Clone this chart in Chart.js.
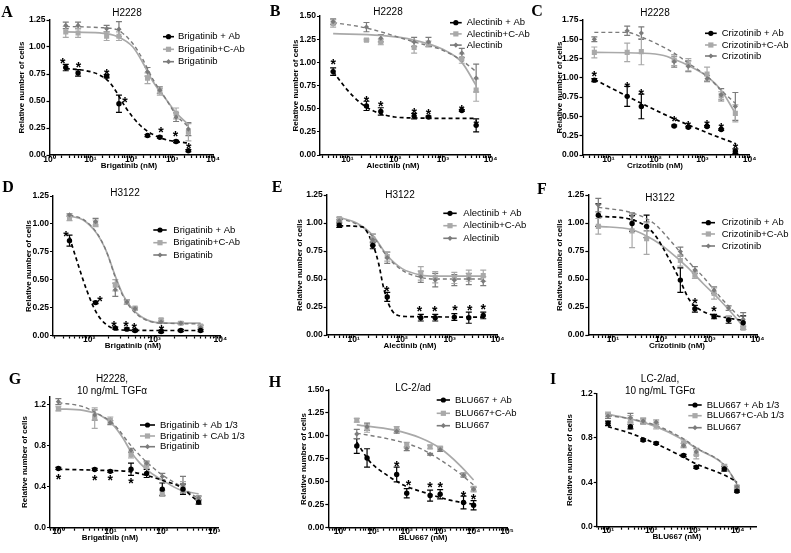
<!DOCTYPE html>
<html>
<head>
<meta charset="utf-8">
<script src="https://cdn.jsdelivr.net/npm/chart.js@4.4.1/dist/chart.umd.min.js"></script>
<style>
  html, body { margin: 0; padding: 0; background: #fff; }
  #wrap { position: relative; width: 791px; height: 553px; overflow: hidden; }
  #wrap canvas { position: absolute; left: 0; top: 0; }
</style>
</head>
<body>
<div id="wrap"></div>
<script>
// ---- A: H2228, brigatinib
const aDose = [2.5, 5, 25, 50, 250, 500, 1250, 2500];
const aAb = [0.81, 0.76, 0.73, 0.475, 0.18, 0.165, 0.125, 0.04];
const aAbErr = [0.03, 0.03, 0.015, 0.08, 0.01, 0.01, 0.01, 0.01];
const aCAb = [1.14, 1.13, 1.10, 1.10, 0.71, 0.585, 0.385, 0.21];
const aCAbErr = [0.05, 0.04, 0.04, 0.04, 0.05, 0.03, 0.05, 0.08];
const aDrug = [1.20, 1.20, 1.17, 1.165, 0.77, 0.60, 0.35, 0.24];
const aDrugErr = [0.03, 0.03, 0.03, 0.07, 0.04, 0.03, 0.04, 0.06];
const aAbFitX = [2.5, 8, 17, 30, 44, 76, 160, 340, 730, 1550, 2500];
const aAbFitY = [0.80, 0.78, 0.74, 0.67, 0.58, 0.43, 0.28, 0.19, 0.14, 0.12, 0.11];
const aCAbFitX = [2.5, 17, 44, 110, 195, 340, 730, 1260, 2500];
const aCAbFitY = [1.14, 1.13, 1.10, 1.00, 0.85, 0.68, 0.51, 0.39, 0.28];
const aDrugFitY = [1.19, 1.18, 1.16, 1.03, 0.88, 0.70, 0.51, 0.37, 0.26];
const aStarX = [2.1, 5.1, 25, 70, 530, 1210, 2560];
const aStarY = [0.88, 0.84, 0.78, 0.52, 0.24, 0.20, 0.09];

// ---- B: H2228, alectinib
const bDose = [5, 25, 50, 250, 500, 2500, 5000];
const bAb = [0.90, 0.53, 0.47, 0.42, 0.41, 0.48, 0.32];
const bAbErr = [0.04, 0.05, 0.04, 0.03, 0.01, 0.01, 0.07];
const bCAb = [1.42, 1.24, 1.22, 1.16, 1.20, 1.04, 0.70];
const bCAbErr = [0.04, 0.01, 0.03, 0.06, 0.03, 0.05, 0.12];
const bDrug = [1.44, 1.38, 1.26, 1.22, 1.22, 1.10, 0.83];
const bDrugErr = [0.03, 0.05, 0.04, 0.05, 0.05, 0.05, 0.15];
const bAbFitX = [5, 10, 19, 37, 98, 260, 1000, 5000];
const bAbFitY = [0.90, 0.70, 0.56, 0.47, 0.41, 0.40, 0.395, 0.395];
const bCAbFitX = [5, 50, 250, 1000, 2500, 5000];
const bCAbFitY = [1.31, 1.29, 1.24, 1.14, 1.00, 0.75];
const bDrugFitX = [5, 25, 250, 1000, 2500, 5000];
const bDrugFitY = [1.43, 1.37, 1.22, 1.13, 1.02, 0.90];
const bStarX = [5, 25, 50, 250, 500, 2500, 5000];
const bStarY = [1.01, 0.61, 0.56, 0.49, 0.47, 0.52, 0.36];

// ---- C: H2228, crizotinib
const cDose = [5, 25, 50, 250, 500, 1250, 2500, 5000];
const cAb = [0.97, 0.76, 0.63, 0.376, 0.36, 0.37, 0.33, 0.05];
const cAbErr = [0.02, 0.13, 0.16, 0.01, 0.01, 0.01, 0.01, 0.03];
const cCAb = [1.33, 1.33, 1.34, 1.23, 1.17, 1.05, 0.77, 0.54];
const cCAbErr = [0.07, 0.12, 0.17, 0.07, 0.08, 0.09, 0.05, 0.11];
const cDrug = [1.50, 1.61, 1.58, 1.21, 1.15, 0.99, 0.78, 0.63];
const cDrugErr = [0.03, 0.06, 0.08, 0.07, 0.07, 0.04, 0.08, 0.18];
const cAbFitX = [5, 15, 50, 150, 500, 1500, 5000];
const cAbFitY = [0.98, 0.83, 0.67, 0.53, 0.39, 0.27, 0.15];
const cCAbFitX = [5, 50, 150, 250, 500, 1250, 2500, 5000];
const cCAbFitY = [1.33, 1.32, 1.29, 1.24, 1.16, 1.02, 0.84, 0.54];
const cDrugFitX = [5, 25, 50, 100, 250, 500, 1250, 2500, 5000];
const cDrugFitY = [1.59, 1.59, 1.53, 1.45, 1.32, 1.19, 1.02, 0.84, 0.67];
const cStarX = [5, 25, 50, 250, 500, 1250, 2500, 5000];
const cStarY = [1.06, 0.92, 0.83, 0.48, 0.42, 0.43, 0.39, 0.13];

// ---- D: H3122, brigatinib
const dDose = [50, 125, 250, 375, 500, 1250, 2500, 5000];
const dAb = [0.85, 0.295, 0.066, 0.057, 0.045, 0.036, 0.045, 0.045];
const dAbErr = [0.05, 0.01, 0.01, 0.01, 0.01, 0.01, 0.01, 0.01];
const dCAb = [1.05, 1.005, 0.45, 0.30, 0.245, 0.14, 0.11, 0.085];
const dCAbErr = [0.02, 0.03, 0.05, 0.02, 0.01, 0.01, 0.01, 0.01];
const dDrug = [1.08, 1.02, 0.41, 0.30, 0.24, 0.12, 0.11, 0.07];
const dDrugErr = [0.01, 0.03, 0.06, 0.02, 0.01, 0.01, 0.01, 0.02];
const dAbFitX = [50, 64, 91, 130, 184, 294, 1000, 5000];
const dAbFitY = [0.88, 0.68, 0.41, 0.20, 0.096, 0.05, 0.045, 0.045];
const dCAbFitX = [50, 81, 130, 184, 247, 330, 470, 760, 1500, 5000];
const dCAbFitY = [1.07, 1.035, 0.915, 0.75, 0.54, 0.36, 0.23, 0.14, 0.11, 0.11];
const dDrugFitY = [1.08, 1.04, 0.92, 0.75, 0.53, 0.35, 0.22, 0.135, 0.11, 0.105];
const dStarX = [44, 146, 238, 363, 487, 1270];
const dStarY = [0.92, 0.335, 0.11, 0.116, 0.096, 0.08];

// ---- E: H3122, alectinib
const eDose = [5, 25, 50, 250, 500, 1250, 2500, 5000];
const eAb = [0.98, 0.80, 0.34, 0.155, 0.155, 0.16, 0.155, 0.175];
const eAbErr = [0.02, 0.03, 0.04, 0.03, 0.03, 0.03, 0.05, 0.03];
const eCAb = [1.04, 0.86, 0.70, 0.55, 0.515, 0.51, 0.53, 0.53];
const eCAbErr = [0.01, 0.04, 0.04, 0.06, 0.05, 0.05, 0.05, 0.05];
const eDrug = [1.02, 0.85, 0.69, 0.52, 0.49, 0.49, 0.50, 0.48];
const eDrugErr = [0.01, 0.05, 0.05, 0.05, 0.06, 0.05, 0.05, 0.04];
const eAbFitX = [5, 15, 25, 33, 41.5, 53, 72, 126, 5000];
const eAbFitY = [0.975, 0.965, 0.81, 0.64, 0.43, 0.28, 0.19, 0.165, 0.16];
const eCAbFitX = [5, 11.5, 25, 50, 100, 250, 500, 5000];
const eCAbFitY = [1.05, 1.00, 0.89, 0.71, 0.595, 0.535, 0.525, 0.525];
const eDrugFitY = [1.04, 0.99, 0.88, 0.70, 0.58, 0.515, 0.50, 0.50];
const eStarX = [49, 235, 490, 1290, 2610, 5000];
const eStarY = [0.42, 0.24, 0.24, 0.25, 0.25, 0.26];

// ---- F: H3122, crizotinib
const fDose = [5, 25, 50, 250, 500, 1250, 2500, 5000];
const fAb = [1.07, 0.995, 0.97, 0.49, 0.235, 0.165, 0.135, 0.11];
const fAbErr = [0.10, 0.07, 0.10, 0.11, 0.03, 0.02, 0.03, 0.06];
const fCAb = [0.97, 0.93, 0.86, 0.665, 0.535, 0.37, 0.15, 0.06];
const fCAbErr = [0.07, 0.15, 0.14, 0.05, 0.03, 0.05, 0.02, 0.01];
const fDrug = [1.16, 1.06, 0.97, 0.745, 0.58, 0.40, 0.24, 0.14];
const fDrugErr = [0.06, 0.03, 0.04, 0.04, 0.03, 0.03, 0.02, 0.06];
const fAbFitX = [5, 25, 69, 150, 245, 390, 740, 1660, 5000];
const fAbFitY = [1.06, 1.03, 0.91, 0.67, 0.49, 0.31, 0.21, 0.165, 0.13];
const fCAbFitX = [5, 25, 69, 150, 340, 740, 1660, 3600, 5000];
const fCAbFitY = [0.97, 0.94, 0.85, 0.745, 0.61, 0.46, 0.31, 0.15, 0.075];
const fDrugFitY = [1.14, 1.09, 1.00, 0.85, 0.67, 0.52, 0.34, 0.19, 0.13];
const fStarX = [500, 1250];
const fStarY = [0.31, 0.24];

// ---- G: H2228 + TGFa, brigatinib
const gDose = [1, 5, 10, 25, 50, 100, 250, 500];
const gAb = [0.578, 0.568, 0.55, 0.57, 0.53, 0.376, 0.376, 0.25];
const gAbErr = [0.01, 0.01, 0.01, 0.06, 0.04, 0.06, 0.05, 0.02];
const gCAb = [1.16, 1.07, 1.05, 0.71, 0.61, 0.335, 0.40, 0.285];
const gCAbErr = [0.02, 0.10, 0.03, 0.03, 0.03, 0.03, 0.05, 0.02];
const gDrug = [1.23, 1.10, 1.025, 0.755, 0.63, 0.50, 0.42, 0.29];
const gDrugErr = [0.03, 0.05, 0.02, 0.02, 0.02, 0.03, 0.08, 0.02];
const gAbFitX = [1, 6.3, 25, 50, 103, 217, 500];
const gAbFitY = [0.57, 0.56, 0.545, 0.51, 0.46, 0.40, 0.25];
const gCAbFitX = [1, 3, 6.3, 11.4, 17.7, 25, 37, 57, 103, 217, 500];
const gCAbFitY = [1.16, 1.145, 1.10, 1.00, 0.87, 0.74, 0.63, 0.545, 0.46, 0.37, 0.33];
const gDrugFitX = [1, 3, 6.3, 11.4, 25, 50, 103, 217, 500];
const gDrugFitY = [1.22, 1.18, 1.10, 1.015, 0.80, 0.64, 0.51, 0.41, 0.28];
const gStarX = [1, 5, 10, 25];
const gStarY = [0.50, 0.49, 0.49, 0.47];

// ---- H: LC-2/ad, BLU667
const hDose = [3.2, 6.5, 50, 100, 500, 1000, 5000, 10000];
const hAb = [0.89, 0.76, 0.58, 0.375, 0.35, 0.365, 0.275, 0.245];
const hAbErr = [0.08, 0.10, 0.08, 0.05, 0.06, 0.05, 0.07, 0.05];
const hCAb = [1.17, 1.08, 1.07, 0.90, 0.88, 0.865, 0.58, 0.42];
const hCAbErr = [0.02, 0.04, 0.03, 0.03, 0.02, 0.02, 0.02, 0.03];
const hDrug = [1.02, 1.10, 1.05, 0.86, 0.80, 0.85, 0.57, 0.42];
const hDrugErr = [0.05, 0.04, 0.02, 0.02, 0.01, 0.02, 0.02, 0.02];
const hAbFitX = [3.2, 7.9, 25, 79, 400, 1950, 10000];
const hAbFitY = [0.93, 0.72, 0.575, 0.465, 0.375, 0.30, 0.255];
const hCAbFitX = [3.2, 40, 250, 1000, 3900, 10000];
const hCAbFitY = [1.12, 1.065, 0.98, 0.865, 0.68, 0.52];
const hDrugFitY = [1.03, 0.955, 0.865, 0.74, 0.59, 0.465];
const hStarX = [50, 112, 500, 1000, 5000, 10000];
const hStarY = [0.70, 0.50, 0.48, 0.48, 0.375, 0.34];

// ---- I: LC-2/ad + TGFa, BLU667
const iDose = [10, 33, 65, 130, 560, 1100, 4900, 9600];
const iAb = [0.93, 0.90, 0.78, 0.75, 0.64, 0.535, 0.52, 0.32];
const iAbErr = [0.02, 0.02, 0.01, 0.01, 0.01, 0.01, 0.02, 0.01];
const iCAb = [1.01, 0.96, 0.95, 0.91, 0.75, 0.65, 0.54, 0.36];
const iCAbErr = [0.02, 0.04, 0.03, 0.03, 0.03, 0.04, 0.02, 0.01];
const iDrug = [0.995, 0.98, 0.95, 0.94, 0.73, 0.675, 0.525, 0.36];
const iDrugErr = [0.02, 0.04, 0.02, 0.02, 0.02, 0.03, 0.02, 0.01];
const iFitX = [10, 33, 130, 560, 1100, 4900, 9600];
const iAbFitY = [0.90, 0.84, 0.745, 0.625, 0.565, 0.465, 0.405];
const iCAbFitY = [1.01, 0.97, 0.90, 0.78, 0.705, 0.555, 0.39];
const iDrugFitY = [1.00, 0.97, 0.91, 0.79, 0.71, 0.555, 0.385];

const W = 791, H = 553;
const SANS = '"Liberation Sans", Arial, sans-serif';
const SERIF = '"Liberation Serif", "Times New Roman", serif';
const BLACK = '#000000', LIGHT = '#a9a9a9', DARK = '#7b7b7b';
const SUP = { '0': '\u2070', '1': '\u00b9', '2': '\u00b2', '3': '\u00b3', '4': '\u2074', '5': '\u2075' };
const YW = 30, XH = 14;

function logTicks(min, max) {
  const out = [];
  for (let e = Math.floor(Math.log10(min)); e <= Math.ceil(Math.log10(max)); e++) {
    for (let m = 1; m < 10; m++) {
      const v = m * Math.pow(10, e);
      if (v >= min * 0.999 && v <= max * 1.001) out.push({ value: v, major: m === 1 });
    }
  }
  return out;
}

function powLabel(v) {
  const e = Math.log10(v);
  if (Math.abs(e - Math.round(e)) > 1e-6) return '';
  return '10' + String(Math.round(e)).split('').map(c => SUP[c]).join('');
}

function mark(ctx, style, color, x, y) {
  ctx.fillStyle = color;
  ctx.beginPath();
  if (style === 'circle') ctx.arc(x, y, 2.6, 0, Math.PI * 2);
  else if (style === 'rect') ctx.rect(x - 2.6, y - 2.6, 5.2, 5.2);
  else { ctx.moveTo(x, y - 2.6); ctx.lineTo(x + 2.6, y); ctx.lineTo(x, y + 2.6); ctx.lineTo(x - 2.6, y); ctx.closePath(); }
  ctx.fill();
}

const decor = {
  id: 'decor',
  beforeDatasetsDraw(chart) {
    const ctx = chart.ctx, xs = chart.scales.x, ys = chart.scales.y;
    chart.data.datasets.forEach(ds => {
      if (!ds.err) return;
      ctx.save();
      ctx.strokeStyle = ds.borderColor;
      ctx.lineWidth = 1.2;
      ds.data.forEach((pt, i) => {
        const e = ds.err[i];
        const x = xs.getPixelForValue(pt.x);
        const y1 = ys.getPixelForValue(pt.y + e), y2 = ys.getPixelForValue(pt.y - e);
        ctx.beginPath();
        ctx.moveTo(x, y1); ctx.lineTo(x, y2);
        ctx.moveTo(x - 3, y1); ctx.lineTo(x + 3, y1);
        ctx.moveTo(x - 3, y2); ctx.lineTo(x + 3, y2);
        ctx.stroke();
      });
      ctx.restore();
    });
  },
  afterDraw(chart) {
    const p = chart.canvas.panel;
    const ctx = chart.ctx, xs = chart.scales.x, ys = chart.scales.y;
    ctx.save();
    ctx.fillStyle = '#000';
    ctx.textBaseline = 'middle';
    ctx.textAlign = 'center';
    // panel letter
    ctx.font = 'bold 16px ' + SERIF;
    ctx.fillText(p.letter, p.letterAt[0], p.letterAt[1]);
    // title lines
    ctx.font = '10px ' + SANS;
    p.title.forEach((t, i) => ctx.fillText(t, p.titleAt[0], p.titleAt[1] + i * 12));
    // axis titles
    ctx.font = 'bold 8px ' + SANS;
    ctx.fillText(p.xTitle, p.xTitleAt[0], p.xTitleAt[1]);
    ctx.save();
    ctx.translate(p.yTitleAt[0], p.yTitleAt[1]);
    ctx.rotate(-Math.PI / 2);
    ctx.fillText('Relative number of cells', 0, 0);
    ctx.restore();
    // stars
    ctx.font = 'bold 14px ' + SANS;
    ctx.textBaseline = 'alphabetic';
    p.stars[0].forEach((sx, i) => {
      ctx.fillText('*', xs.getPixelForValue(sx), ys.getPixelForValue(p.stars[1][i]) + 8);
    });
    // legend
    const L = p.legend;
    const keys = [[BLACK, 'circle'], [LIGHT, 'rect'], [DARK, 'diamond']];
    ctx.font = '9.5px ' + SANS;
    ctx.textAlign = 'left';
    ctx.textBaseline = 'middle';
    keys.forEach((k, i) => {
      const y = L.ys[i];
      ctx.strokeStyle = k[0];
      ctx.lineWidth = 1.6;
      ctx.beginPath(); ctx.moveTo(L.x1, y); ctx.lineTo(L.x2, y); ctx.stroke();
      mark(ctx, k[1], k[0], (L.x1 + L.x2) / 2, y);
      ctx.fillStyle = '#000';
      ctx.fillText(p.labels[i], L.tx, y);
    });
    ctx.restore();
  }
};

function panel(p) {
  const canvas = document.createElement('canvas');
  canvas.width = W;
  canvas.height = H;
  document.getElementById('wrap').appendChild(canvas);
  canvas.panel = p;
  const pts = ys => p.dose.map((d, i) => ({ x: d, y: ys[i] }));
  const curve = (xs, ys) => xs.map((x, i) => ({ x: x, y: ys[i] }));
  const b = p.box;
  const tickFont = { family: SANS, size: 8.5, weight: 'bold', lineHeight: 1 };
  const axisGrid = { drawOnChartArea: false, color: '#000', tickLength: 3, tickWidth: 1.2 };
  const axisBorder = { color: '#000', width: 1.4 };

  new Chart(canvas, {
    type: 'scatter',
    data: {
      datasets: [
        { data: pts(p.ab), err: p.abErr, pointStyle: 'circle', pointRadius: 2.7, backgroundColor: BLACK, borderColor: BLACK, borderWidth: 0 },
        { data: pts(p.drug), err: p.drugErr, pointStyle: 'rectRot', pointRadius: 2.6, backgroundColor: DARK, borderColor: DARK, borderWidth: 0 },
        { data: pts(p.cab), err: p.cabErr, pointStyle: 'rect', pointRadius: 3.6, backgroundColor: LIGHT, borderColor: LIGHT, borderWidth: 0 },
        { data: curve(p.abFit[0], p.abFit[1]), showLine: true, pointRadius: 0, borderColor: BLACK, borderWidth: 1.7, borderDash: [4, 3], cubicInterpolationMode: 'monotone' },
        { data: curve(p.drugFit[0], p.drugFit[1]), showLine: true, pointRadius: 0, borderColor: DARK, borderWidth: 1.4, borderDash: [4, 3], cubicInterpolationMode: 'monotone' },
        { data: curve(p.cabFit[0], p.cabFit[1]), showLine: true, pointRadius: 0, borderColor: LIGHT, borderWidth: 1.7, cubicInterpolationMode: 'monotone' }
      ]
    },
    options: {
      responsive: false,
      animation: false,
      events: [],
      layout: { padding: { left: b.x0 - YW, right: W - b.x1, top: b.y0, bottom: H - b.y1 - XH } },
      plugins: { legend: { display: false }, tooltip: { enabled: false } },
      scales: {
        x: {
          type: 'logarithmic',
          min: p.xmin,
          max: p.xmax,
          afterFit: s => { s.height = XH; },
          afterBuildTicks: s => { s.ticks = logTicks(p.xmin, p.xmax); },
          grid: axisGrid,
          border: axisBorder,
          ticks: { autoSkip: false, maxRotation: 0, padding: -3, color: '#000', font: tickFont, callback: v => powLabel(v) }
        },
        y: {
          type: 'linear',
          min: 0,
          max: p.ymax,
          afterFit: s => { s.width = YW; },
          afterBuildTicks: s => {
            s.ticks = s.ticks.filter(t => Math.abs(t.value / p.step - Math.round(t.value / p.step)) < 1e-6);
          },
          grid: axisGrid,
          border: axisBorder,
          ticks: { stepSize: p.step, padding: 1, color: '#000', font: tickFont, callback: v => v.toFixed(p.dec) }
        }
      }
    },
    plugins: [decor]
  });
}

const brig = ['Brigatinib + Ab', 'Brigatinib+C-Ab', 'Brigatinib'];
const alec = ['Alectinib + Ab', 'Alectinib+C-Ab', 'Alectinib'];
const criz = ['Crizotinib + Ab', 'Crizotinib+C-Ab', 'Crizotinib'];

panel({
  letter: 'A', letterAt: [7, 13], title: ['H2228'], titleAt: [127, 13],
  xTitle: 'Brigatinib (nM)', xTitleAt: [129, 165.5], yTitleAt: [21.7, 87.5],
  box: { x0: 49.5, x1: 213, y0: 20, y1: 155 }, xmin: 1, xmax: 1e4, ymax: 1.25, step: 0.25, dec: 2,
  dose: aDose, ab: aAb, abErr: aAbErr, cab: aCAb, cabErr: aCAbErr, drug: aDrug, drugErr: aDrugErr,
  abFit: [aAbFitX, aAbFitY], cabFit: [aCAbFitX, aCAbFitY], drugFit: [aCAbFitX, aDrugFitY],
  stars: [aStarX, aStarY], labels: brig,
  legend: { x1: 163, x2: 174, tx: 178, ys: [36.7, 49.3, 61.7] }
});

panel({
  letter: 'B', letterAt: [275, 12], title: ['H2228'], titleAt: [388, 12],
  xTitle: 'Alectinib (nM)', xTitleAt: [393, 165.5], yTitleAt: [296, 85.5],
  box: { x0: 320, x1: 490.5, y0: 16, y1: 155 }, xmin: 2.65, xmax: 1e4, ymax: 1.5, step: 0.25, dec: 2,
  dose: bDose, ab: bAb, abErr: bAbErr, cab: bCAb, cabErr: bCAbErr, drug: bDrug, drugErr: bDrugErr,
  abFit: [bAbFitX, bAbFitY], cabFit: [bCAbFitX, bCAbFitY], drugFit: [bDrugFitX, bDrugFitY],
  stars: [bStarX, bStarY], labels: alec,
  legend: { x1: 450, x2: 461.7, tx: 466.7, ys: [22.7, 33.9, 45.1] }
});

panel({
  letter: 'C', letterAt: [537, 12], title: ['H2228'], titleAt: [655, 13],
  xTitle: 'Crizotinib (nM)', xTitleAt: [655, 165.5], yTitleAt: [560, 87.5],
  box: { x0: 582.5, x1: 749.5, y0: 20, y1: 155 }, xmin: 2.8, xmax: 1e4, ymax: 1.75, step: 0.25, dec: 2,
  dose: cDose, ab: cAb, abErr: cAbErr, cab: cCAb, cabErr: cCAbErr, drug: cDrug, drugErr: cDrugErr,
  abFit: [cAbFitX, cAbFitY], cabFit: [cCAbFitX, cCAbFitY], drugFit: [cDrugFitX, cDrugFitY],
  stars: [cStarX, cStarY], labels: criz,
  legend: { x1: 705, x2: 716.7, tx: 721.7, ys: [33.3, 45, 56] }
});

panel({
  letter: 'D', letterAt: [8, 188], title: ['H3122'], titleAt: [125, 193],
  xTitle: 'Brigatinib (nM)', xTitleAt: [133, 346], yTitleAt: [28.3, 266],
  box: { x0: 53, x1: 220.3, y0: 196, y1: 335.5 }, xmin: 28, xmax: 1e4, ymax: 1.25, step: 0.25, dec: 2,
  dose: dDose, ab: dAb, abErr: dAbErr, cab: dCAb, cabErr: dCAbErr, drug: dDrug, drugErr: dDrugErr,
  abFit: [dAbFitX, dAbFitY], cabFit: [dCAbFitX, dCAbFitY], drugFit: [dCAbFitX, dDrugFitY],
  stars: [dStarX, dStarY], labels: brig,
  legend: { x1: 153.3, x2: 166.7, tx: 173.3, ys: [230, 242.7, 255] }
});

panel({
  letter: 'E', letterAt: [277, 188], title: ['H3122'], titleAt: [400, 195],
  xTitle: 'Alectinib (nM)', xTitleAt: [410, 345.5], yTitleAt: [300, 265],
  box: { x0: 326.7, x1: 497.7, y0: 195, y1: 335 }, xmin: 2.74, xmax: 1e4, ymax: 1.25, step: 0.25, dec: 2,
  dose: eDose, ab: eAb, abErr: eAbErr, cab: eCAb, cabErr: eCAbErr, drug: eDrug, drugErr: eDrugErr,
  abFit: [eAbFitX, eAbFitY], cabFit: [eCAbFitX, eCAbFitY], drugFit: [eCAbFitX, eDrugFitY],
  stars: [eStarX, eStarY], labels: alec,
  legend: { x1: 443.3, x2: 456.7, tx: 463.3, ys: [213.3, 225.7, 238.3] }
});

panel({
  letter: 'F', letterAt: [542, 190], title: ['H3122'], titleAt: [660, 198],
  xTitle: 'Crizotinib (nM)', xTitleAt: [677, 345.5], yTitleAt: [560, 265],
  box: { x0: 588.3, x1: 757.7, y0: 195, y1: 335 }, xmin: 3.1, xmax: 1e4, ymax: 1.25, step: 0.25, dec: 2,
  dose: fDose, ab: fAb, abErr: fAbErr, cab: fCAb, cabErr: fCAbErr, drug: fDrug, drugErr: fDrugErr,
  abFit: [fAbFitX, fAbFitY], cabFit: [fCAbFitX, fCAbFitY], drugFit: [fCAbFitX, fDrugFitY],
  stars: [fStarX, fStarY], labels: criz,
  legend: { x1: 701.7, x2: 715, tx: 721.7, ys: [222.7, 234, 246] }
});

panel({
  letter: 'G', letterAt: [15, 380], title: ['H2228,', '10 ng/mL TGF\u03b1'], titleAt: [112, 379],
  xTitle: 'Brigatinib (nM)', xTitleAt: [110, 538], yTitleAt: [25, 462],
  box: { x0: 50, x1: 218, y0: 396.5, y1: 527.7 }, xmin: 0.69, xmax: 1180, ymax: 1.28, step: 0.4, dec: 1,
  dose: gDose, ab: gAb, abErr: gAbErr, cab: gCAb, cabErr: gCAbErr, drug: gDrug, drugErr: gDrugErr,
  abFit: [gAbFitX, gAbFitY], cabFit: [gCAbFitX, gCAbFitY], drugFit: [gDrugFitX, gDrugFitY],
  stars: [gStarX, gStarY], labels: ['Brigatinib + Ab 1/3', 'Brigatinib + CAb 1/3', 'Brigatinib'],
  legend: { x1: 140, x2: 155, tx: 160, ys: [425, 436, 446.7] }
});

panel({
  letter: 'H', letterAt: [275, 383], title: ['LC-2/ad'], titleAt: [413, 388],
  xTitle: 'BLU667 (nM)', xTitleAt: [423, 538], yTitleAt: [304, 459],
  box: { x0: 328.3, x1: 507, y0: 390, y1: 527.7 }, xmin: 0.45, xmax: 1e5, ymax: 1.5, step: 0.25, dec: 2,
  dose: hDose, ab: hAb, abErr: hAbErr, cab: hCAb, cabErr: hCAbErr, drug: hDrug, drugErr: hDrugErr,
  abFit: [hAbFitX, hAbFitY], cabFit: [hCAbFitX, hCAbFitY], drugFit: [hCAbFitX, hDrugFitY],
  stars: [hStarX, hStarY], labels: ['BLU667 + Ab', 'BLU667+C-Ab', 'BLU667'],
  legend: { x1: 436.7, x2: 450, tx: 455, ys: [400, 413.3, 425.7] }
});

panel({
  letter: 'I', letterAt: [553, 380], title: ['LC-2/ad,', '10 ng/mL TGF\u03b1'], titleAt: [660, 379],
  xTitle: 'BLU667 (nM)', xTitleAt: [677, 537], yTitleAt: [570, 460],
  box: { x0: 596.7, x1: 756.7, y0: 393.3, y1: 526.7 }, xmin: 5.47, xmax: 27500, ymax: 1.2, step: 0.4, dec: 1,
  dose: iDose, ab: iAb, abErr: iAbErr, cab: iCAb, cabErr: iCAbErr, drug: iDrug, drugErr: iDrugErr,
  abFit: [iFitX, iAbFitY], cabFit: [iFitX, iCAbFitY], drugFit: [iFitX, iDrugFitY],
  stars: [[], []], labels: ['BLU667 + Ab 1/3', 'BLU667+C-Ab 1/3', 'BLU667'],
  legend: { x1: 688.3, x2: 701.7, tx: 706.7, ys: [405, 415.7, 427.7] }
});
</script>
</body>
</html>
